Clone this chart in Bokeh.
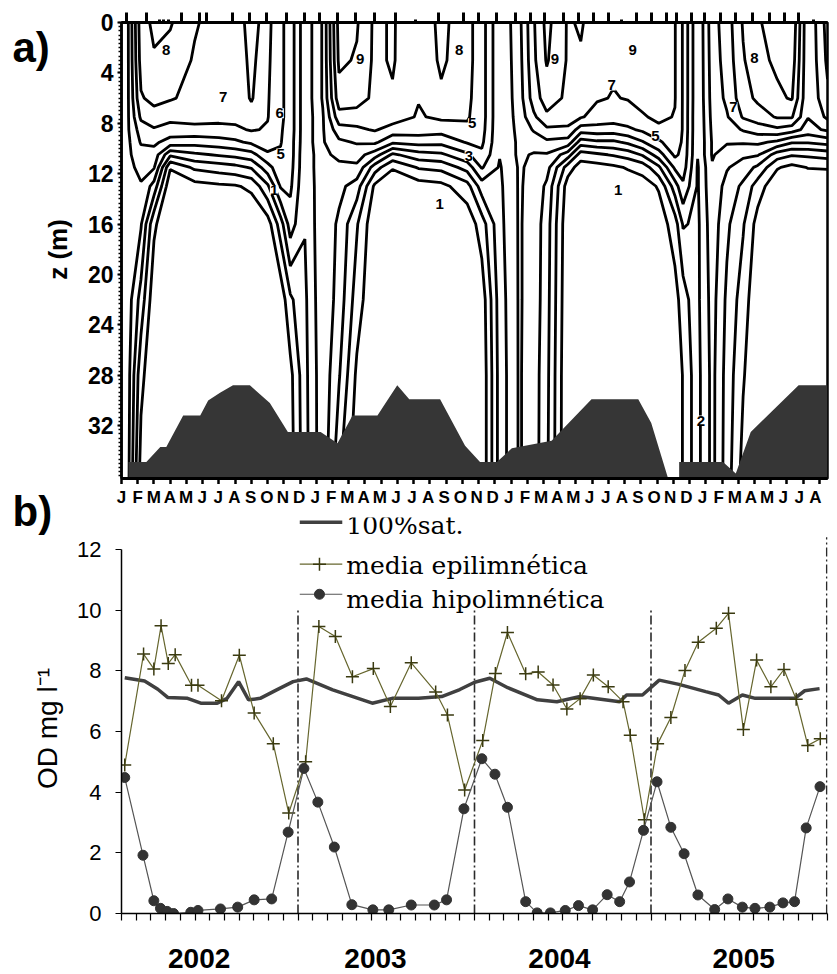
import numpy as np
from bokeh.plotting import figure
from bokeh.layouts import column, row
from bokeh.models import Range1d, FixedTicker, LinearAxis, LabelSet, ColumnDataSource
from bokeh.core.properties import value
from bokeh.embed import file_html
from bokeh.resources import INLINE

# ---------------- panel a) data ----------------
month_letters = list("JFMAMJJASOND") * 3 + list("JFMAMJJA")
depth_ticks = [0, 4, 8, 12, 16, 20, 24, 28, 32]
depth_rows = [0, 3, 6, 7.5, 8.5, 9.5, 10.5, 11.5, 13, 16, 22, 28, 36.5]
profile_months = [0.0, 0.4, 1.2, 2.0, 3.0, 4.5, 6.0, 7.0, 8.0, 9.0, 9.8, 10.4, 11.3, 12.4,
                  13.4, 14.5, 15.6, 16.7, 18.3, 19.7, 21.3, 22.2, 23.3, 24.5, 25.4, 26.2,
                  27.5, 28.3, 29.3, 30.3, 31.2, 32.1, 33.1, 34.1, 34.6, 35.5, 36.4, 37.3,
                  38.3, 39.2, 40.4, 41.3, 42.3, 43.5]
# dissolved oxygen (mg/l) profile at each time, one value per depth row
profiles = [
    [4.8, 4.8, 4.8, 4.8, 4.8, 4.8, 4.7, 4.7, 4.7, 4.6, 4.6, 4.5, 4.5],
    [4.9, 4.9, 4.9, 4.9, 4.9, 4.8, 4.8, 4.7, 4.7, 4.6, 4.5, 4.4, 4.3],
    [8.6, 8.4, 7.9, 7.2, 6.5, 6.1, 5.6, 5.3, 4.9, 4.1, 2.6, 1.3, 0.5],
    [9.2, 8.9, 8.3, 7.6, 6.9, 6.2, 5.6, 5.1, 3.6, 1.2, 0.3, 0.1, 0.0],
    [9.1, 8.6, 8.1, 7.3, 6.6, 5.6, 3.2, 1.1, 0.2, 0.0, 0.0, 0.0, 0.0],
    [8.1, 7.9, 7.7, 7.4, 6.7, 5.4, 3.8, 2.2, 0.6, 0.0, 0.0, 0.0, 0.0],
    [7.6, 7.5, 7.4, 7.3, 6.7, 5.6, 4.1, 2.5, 0.8, 0.0, 0.0, 0.0, 0.0],
    [7.2, 7.2, 7.3, 7.3, 6.8, 5.8, 4.3, 2.7, 0.9, 0.1, 0.0, 0.0, 0.0],
    [8.6, 8.3, 8.1, 7.6, 7.1, 6.2, 4.6, 3.1, 1.2, 0.1, 0.0, 0.0, 0.0],
    [7.3, 7.2, 7.1, 7.05, 6.9, 6.6, 5.8, 4.6, 2.8, 0.5, 0.1, 0.0, 0.0],
    [6.2, 6.2, 6.2, 6.2, 6.1, 6.05, 5.9, 5.7, 5.1, 2.5, 0.3, 0.0, 0.0],
    [5.6, 5.6, 5.6, 5.6, 5.6, 5.5, 5.5, 5.4, 5.2, 4.5, 1.8, 0.7, 0.5],
    [3.3, 3.3, 3.3, 3.3, 3.3, 3.3, 3.2, 3.2, 3.1, 3.05, 2.8, 2.7, 2.6],
    [5.1, 5.1, 5.1, 4.9, 4.9, 4.9, 4.8, 4.8, 4.8, 4.8, 4.8, 4.7, 4.7],
    [9.4, 9.2, 8.6, 7.6, 6.6, 5.8, 5.2, 4.8, 4.3, 3.8, 3.6, 3.1, 2.1],
    [9.1, 8.9, 8.4, 7.6, 6.8, 6.1, 5.4, 4.8, 3.5, 2.1, 1.5, 0.8, 0.3],
    [7.8, 7.8, 7.8, 7.6, 7.1, 6.2, 4.5, 2.5, 0.8, 0.2, 0.1, 0.0, 0.0],
    [8.1, 8.1, 7.9, 7.5, 6.6, 5.2, 2.8, 1.1, 0.2, 0.0, 0.0, 0.0, 0.0],
    [7.2, 7.1, 7.05, 6.9, 6.5, 5.4, 3.6, 2.1, 0.5, 0.0, 0.0, 0.0, 0.0],
    [8.3, 8.2, 7.8, 7.2, 6.4, 5.3, 3.8, 2.3, 0.7, 0.0, 0.0, 0.0, 0.0],
    [7.3, 7.3, 7.2, 7.1, 6.8, 6.1, 4.8, 3.4, 1.6, 0.3, 0.0, 0.0, 0.0],
    [6.5, 6.5, 6.5, 6.5, 6.4, 6.2, 5.8, 5.1, 3.5, 1.5, 0.4, 0.2, 0.2],
    [4.1, 4.1, 4.1, 4.1, 4.1, 4.1, 4.05, 3.9, 3.8, 3.7, 3.5, 3.4, 3.4],
    [5.7, 5.6, 5.5, 5.4, 5.3, 5.2, 5.2, 5.1, 5.1, 5.1, 5.1, 5.1, 5.1],
    [7.9, 7.8, 7.5, 6.8, 6.1, 5.5, 4.9, 4.8, 4.7, 4.6, 4.6, 4.5, 4.5],
    [9.3, 9.1, 8.5, 7.8, 6.8, 5.8, 4.9, 4.4, 3.8, 3.5, 3.4, 3.3, 3.2],
    [7.9, 7.9, 7.8, 7.5, 6.8, 5.6, 3.5, 1.5, 0.5, 0.2, 0.1, 0.0, 0.0],
    [8.1, 7.9, 7.6, 7.1, 5.5, 3.5, 1.5, 0.5, 0.1, 0.0, 0.0, 0.0, 0.0],
    [7.5, 7.4, 7.1, 6.6, 5.6, 3.8, 1.8, 0.6, 0.1, 0.0, 0.0, 0.0, 0.0],
    [7.2, 7.15, 6.95, 6.5, 5.5, 3.8, 2.1, 0.8, 0.2, 0.0, 0.0, 0.0, 0.0],
    [7.1, 7.1, 7.05, 6.6, 5.8, 4.2, 2.4, 1.1, 0.3, 0.0, 0.0, 0.0, 0.0],
    [7.9, 7.7, 7.3, 6.9, 6.2, 4.9, 3.1, 1.4, 0.5, 0.1, 0.0, 0.0, 0.0],
    [7.5, 7.5, 7.4, 7.2, 6.8, 5.8, 4.5, 2.8, 1.1, 0.4, 0.2, 0.1, 0.1],
    [7.05, 7.05, 7.05, 6.95, 6.9, 6.7, 6.2, 5.2, 3.5, 1.5, 0.6, 0.4, 0.4],
    [5.9, 5.9, 5.9, 5.9, 5.9, 5.8, 5.7, 5.5, 4.8, 3.1, 1.5, 1.05, 1.05],
    [3.1, 3.1, 3.1, 3.05, 3.05, 3.05, 3.05, 2.9, 2.9, 2.8, 2.8, 2.7, 2.7],
    [5.6, 5.5, 5.4, 5.3, 5.2, 5.1, 5.1, 4.9, 4.8, 4.6, 4.4, 4.3, 4.3],
    [6.5, 6.4, 6.2, 5.9, 5.5, 5.1, 4.5, 4.1, 3.6, 3.2, 2.8, 2.6, 2.5],
    [8.1, 7.9, 7.6, 7.1, 6.1, 5.1, 4.2, 3.5, 2.8, 2.1, 1.5, 1.1, 0.6],
    [8.9, 8.7, 8.2, 7.5, 6.5, 5.2, 4.1, 2.8, 1.5, 0.6, 0.2, 0.1, 0.0],
    [9.4, 9.2, 8.8, 8.1, 6.8, 4.8, 2.5, 1.1, 0.2, 0.0, 0.0, 0.0, 0.0],
    [9.9, 9.6, 9.1, 8.1, 6.5, 4.1, 2.1, 0.7, 0.1, 0.0, 0.0, 0.0, 0.0],
    [6.1, 6.1, 6.1, 6.05, 5.6, 4.1, 2.2, 1.05, 0.2, 0.0, 0.0, 0.0, 0.0],
    [8.4, 8.2, 7.8, 7.2, 6.2, 4.4, 2.4, 1.1, 0.2, 0.0, 0.0, 0.0, 0.0],
]
contour_levels = [1, 2, 3, 4, 5, 6, 7, 8, 9]
sample_major = [0.33, 1.55, 3.70, 4.83, 5.24, 6.87, 7.89, 8.92, 10.14, 11.27, 12.19, 13.31,
                14.44, 15.56, 16.89, 19.55, 21.08, 22.00, 23.13, 24.25, 25.17, 26.09, 27.22,
                28.14, 29.06, 29.98, 31.72, 32.64, 33.56, 34.17, 35.09, 35.91, 36.93, 37.85,
                38.88, 39.90, 40.82, 41.74]
sample_minor = [2.37, 2.58, 2.88, 18.12, 30.80, 42.66]
bed_month = [0.43, 1.53, 2.39, 2.76, 3.80, 4.85, 5.34, 6.07, 6.87, 7.91, 9.14, 10.25, 12.27,
             13.31, 14.23, 15.77, 16.99, 17.73, 19.63, 21.17, 22.09, 23.13, 24.05, 26.50,
             28.96, 31.84, 32.64, 33.68, 34.36, 34.36, 37.06, 37.85, 38.77, 41.72, 43.5]
bed_depth = [34.9, 34.9, 33.7, 33.7, 31.2, 31.2, 30.0, 29.4, 28.8, 28.8, 30.2, 32.5, 32.5,
             33.4, 31.2, 31.2, 28.8, 29.9, 29.9, 33.6, 34.9, 34.9, 33.8, 33.2, 29.9, 29.9,
             31.8, 36.2, 36.2, 34.9, 34.9, 35.8, 32.5, 28.8, 28.8]
clabel_month = [2.76, 6.26, 9.75, 9.8, 9.4, 14.7, 20.8, 21.6, 21.4, 19.6, 26.7, 30.2, 31.5,
                32.9, 30.6, 39.0, 37.7, 35.7]
clabel_depth = [2.2, 5.9, 7.2, 10.4, 13.3, 2.9, 2.2, 8.0, 10.6, 14.4, 2.9, 5.0, 2.2, 9.0,
                13.3, 2.8, 6.7, 31.6]
clabel_text = ["8", "7", "6", "5", "1", "9", "8", "5", "3", "1", "9", "7", "9", "5", "1",
               "8", "7", "2"]

# ---------------- panel b) data ----------------
years = ["2002", "2003", "2004", "2005"]
year_label_month = [5.28, 17.27, 29.78, 42.3]
year_bounds = [12, 24, 36, 47.95]
od_ticks = [0, 2, 4, 6, 8, 10, 12]
sat_month = [0.22, 1.57, 2.47, 3.14, 4.49, 5.39, 6.51, 7.18, 7.96, 8.64, 9.43, 10.55, 11.67,
             12.57, 14.36, 17.05, 18.40, 20.20, 21.77, 23.0, 24.01, 25.04, 26.26, 28.28,
             29.6, 31.18, 33.87, 34.34, 35.42, 36.56, 37.90, 39.72, 40.60, 41.27, 42.21,
             43.09, 45.78, 46.45, 47.46]
sat_od = [7.77, 7.66, 7.39, 7.12, 7.09, 6.93, 6.93, 7.09, 7.64, 7.04, 7.09, 7.37, 7.64,
          7.73, 7.37, 6.93, 7.09, 7.09, 7.15, 7.38, 7.62, 7.75, 7.44, 7.04, 6.98, 7.15,
          6.98, 7.20, 7.20, 7.69, 7.55, 7.31, 7.20, 6.93, 7.20, 7.09, 7.09, 7.34, 7.41]
epi_month = [0.22, 1.50, 2.20, 2.69, 3.18, 3.65, 4.76, 5.20, 6.80, 8.01, 9.02, 10.32, 11.37,
             12.52, 13.42, 14.54, 15.70, 17.12, 18.28, 19.70, 21.36, 22.16, 23.33, 24.56,
             25.42, 26.24, 27.48, 28.33, 29.34, 30.28, 31.18, 32.08, 33.09, 34.10, 34.59,
             35.55, 36.45, 37.35, 38.31, 39.21, 40.44, 41.27, 42.28, 43.18, 44.15, 45.04,
             45.87, 46.66, 47.51]
epi_od = [4.89, 8.55, 8.06, 9.48, 8.24, 8.53, 7.52, 7.52, 7.01, 8.51, 6.61, 5.59, 3.31,
          5.00, 9.46, 9.13, 7.80, 8.07, 6.82, 8.26, 7.30, 6.54, 4.07, 5.70, 7.91, 9.26,
          7.90, 7.96, 7.53, 6.74, 7.08, 7.86, 7.47, 6.98, 5.87, 3.09, 5.59, 6.46, 8.01,
          8.94, 9.40, 9.89, 6.06, 8.35, 7.47, 8.04, 7.06, 5.54, 5.76]
hypo_month = [0.22, 1.46, 2.20, 2.65, 3.10, 3.54, 4.71, 5.20, 6.73, 7.90, 9.02, 10.21, 11.33,
              12.40, 13.35, 14.47, 15.66, 17.09, 18.17, 19.70, 21.27, 22.10, 23.28, 24.50,
              25.39, 26.24, 27.48, 28.26, 29.16, 30.17, 31.07, 32.03, 33.02, 33.87, 34.54,
              35.49, 36.41, 37.35, 38.25, 39.19, 40.33, 41.23, 42.21, 43.07, 44.08, 44.97,
              45.76, 46.55, 47.49]
hypo_od = [4.48, 1.92, 0.42, 0.17, 0.07, 0.00, 0.04, 0.10, 0.15, 0.21, 0.45, 0.48, 2.68,
           4.78, 3.67, 2.19, 0.29, 0.12, 0.12, 0.28, 0.28, 0.45, 3.45, 5.10, 4.59, 3.50,
           0.39, 0.02, 0.02, 0.10, 0.26, 0.12, 0.62, 0.39, 1.04, 2.74, 4.34, 2.84, 1.97,
           0.61, 0.13, 0.48, 0.21, 0.17, 0.21, 0.35, 0.39, 2.82, 4.18]
legend_names = ["100%sat.", "media epilimnética", "media hipolimnética"]

SANS = "Liberation Sans"
STRIP_W = 74

# ================= left strip with panel letters and axis titles =================
strip = figure(width=STRIP_W, height=974, x_range=Range1d(0, STRIP_W), y_range=Range1d(974, 0),
               output_backend="svg", toolbar_location=None, x_axis_location=None,
               y_axis_location=None, min_border=0)
strip.grid.visible = False
strip.outline_line_color = None
strip.text(x=[12, 12], y=[23, 487], text=["a)", "b)"], text_font=value(SANS),
           text_font_style="bold", text_font_size="42px", text_baseline="top",
           text_align="left", text_color="black")
strip.text(x=[57], y=[249], text=["z (m)"], angle=np.pi / 2, text_font=value(SANS),
           text_font_style="bold", text_font_size="26px", text_baseline="middle",
           text_align="center", text_color="black")
strip.text(x=[47], y=[728], text=["OD mg l⁻¹"], angle=np.pi / 2, text_font=value(SANS),
           text_font_size="28px", text_baseline="middle", text_align="center",
           text_color="black")

# ================= panel a =================
p1 = figure(width=837 - STRIP_W, height=484, x_range=Range1d(0, 43.5),
            y_range=Range1d(36.2, 0), output_backend="svg", toolbar_location=None,
            min_border_left=118 - STRIP_W, min_border_right=10, min_border_top=22,
            min_border_bottom=6)
p1.grid.visible = False
p1.outline_line_color = "black"
p1.outline_line_width = 2.5

z = np.array(profiles, dtype=float).T
p1.contour(x=profile_months, y=depth_rows, z=z, levels=contour_levels,
           line_color="black", line_width=2.8)

bed_x = bed_month + [bed_month[-1], bed_month[0]]
bed_y = bed_depth + [37.5, 37.5]
p1.patch(bed_x, bed_y, fill_color="#363636", line_color=None)

cl_src = ColumnDataSource(dict(x=clabel_month, y=clabel_depth, t=clabel_text))
p1.add_layout(LabelSet(x="x", y="y", text="t", source=cl_src, text_align="center",
                       text_baseline="middle", text_font=value(SANS),
                       text_font_style="bold", text_font_size="15px", text_color="black",
                       background_fill_color="white"))

xa = p1.below[0]
xa.ticker = FixedTicker(ticks=list(range(44)))
xa.major_label_text_font_size = "1px"
xa.major_label_text_color = None
xa.major_label_standoff = 0
xa.major_tick_out = 6
xa.major_tick_in = 0
xa.major_tick_line_width = 2.5
xa.minor_tick_line_color = None
xa.axis_line_width = 3

ya = p1.left[0]
ya.ticker = FixedTicker(ticks=depth_ticks, minor_ticks=[k / 3 for k in range(109)])
ya.major_label_text_font = SANS
ya.major_label_text_font_style = "bold"
ya.major_label_text_font_size = "23px"
ya.major_label_text_color = "black"
ya.major_label_standoff = 4
ya.major_tick_out = 4
ya.major_tick_in = 0
ya.major_tick_line_width = 2
ya.minor_tick_out = 3
ya.minor_tick_in = 0
ya.minor_tick_line_width = 1.5
ya.axis_line_width = 2.5

top_ax = LinearAxis(ticker=FixedTicker(ticks=sample_major, minor_ticks=sample_minor),
                    major_label_text_font_size="1px", major_label_text_color=None,
                    major_label_standoff=0,
                    major_tick_out=10, major_tick_in=0, major_tick_line_width=3,
                    minor_tick_out=3, minor_tick_in=0, minor_tick_line_width=3,
                    axis_line_width=3)
p1.add_layout(top_ax, "above")

# ================= panel b =================
P2_TOP = 31
y_top = (913 - (484 + P2_TOP)) / 30.5
p2 = figure(width=837 - STRIP_W, height=490, x_range=Range1d(0, 48),
            y_range=Range1d(0, y_top), output_backend="svg", toolbar_location=None,
            min_border_left=120 - STRIP_W, min_border_right=4, min_border_top=P2_TOP,
            min_border_bottom=61)
p2.grid.visible = False
p2.outline_line_color = None
p2.extra_x_ranges = {"mon": Range1d(0, 43.745)}

p2.segment(x0=year_bounds, y0=[0] * 4, x1=year_bounds, y1=[12.4] * 4,
           line_color="#2a2a2a", line_width=1.6, line_dash="9 3 2 3")

# legend box and entries
p2.quad(left=[11.4], right=[39.5], bottom=[10.05], top=[13.3], fill_color="white",
        line_color=None)
p2.line(x=[12.12, 15.01], y=[12.89, 12.89], line_color="#404040", line_width=3.5)
p2.line(x=[12.12, 15.01], y=[11.51, 11.51], line_color="#66662e", line_width=1.2)
p2.scatter(x=[13.46], y=[11.51], marker="cross", size=13, line_color="#3a3a10",
           line_width=1.5)
p2.line(x=[12.12, 15.01], y=[10.52, 10.52], line_color="#555555", line_width=1.2)
p2.scatter(x=[13.46], y=[10.52], marker="circle", size=10, fill_color="#333333",
           line_color="#333333")
p2.text(x=[15.28] * 3, y=[12.79, 11.48, 10.36], text=legend_names,
        text_font=value("DejaVu Serif"), text_font_size="25px", text_color="black",
        text_baseline="alphabetic", text_align="left")

# data
p2.line(sat_month, sat_od, line_color="#404040", line_width=3.5)
p2.line(epi_month, epi_od, line_color="#66662e", line_width=1.2)
p2.scatter(epi_month, epi_od, marker="cross", size=13, line_color="#3a3a10", line_width=1.5)
p2.line(hypo_month, hypo_od, line_color="#555555", line_width=1.2)
p2.scatter(hypo_month, hypo_od, marker="circle", size=10, fill_color="#333333",
           line_color="#333333")

bx = p2.below[0]
bx.ticker = FixedTicker(ticks=year_label_month, minor_ticks=list(range(49)))
bx.major_label_overrides = {m: y for m, y in zip(year_label_month, years)}
bx.major_tick_out = 0
bx.major_tick_in = 0
bx.minor_tick_out = 7
bx.minor_tick_in = 0
bx.minor_tick_line_width = 1.2
bx.axis_line_width = 1.5
bx.major_label_text_font = SANS
bx.major_label_text_font_style = "bold"
bx.major_label_text_font_size = "28px"
bx.major_label_text_color = "black"
bx.major_label_standoff = 28

by = p2.left[0]
by.ticker = FixedTicker(ticks=od_ticks)
by.bounds = (0, 12)
by.major_tick_out = 6
by.major_tick_in = 0
by.minor_tick_line_color = None
by.axis_line_width = 1.5
by.major_label_text_font = SANS
by.major_label_text_font_size = "22px"
by.major_label_text_color = "black"
by.major_label_standoff = 14

mon_ax = LinearAxis(x_range_name="mon", ticker=FixedTicker(ticks=list(range(44))),
                    major_label_overrides={i: month_letters[i] for i in range(44)},
                    axis_line_color=None, major_tick_line_color=None,
                    minor_tick_line_color=None, major_label_standoff=5,
                    major_label_text_font=SANS, major_label_text_font_style="bold",
                    major_label_text_font_size="17px", major_label_text_color="black")
p2.add_layout(mon_ax, "above")

layout = row(strip, column(p1, p2))
open("out.html", "w").write(file_html(layout, INLINE))
